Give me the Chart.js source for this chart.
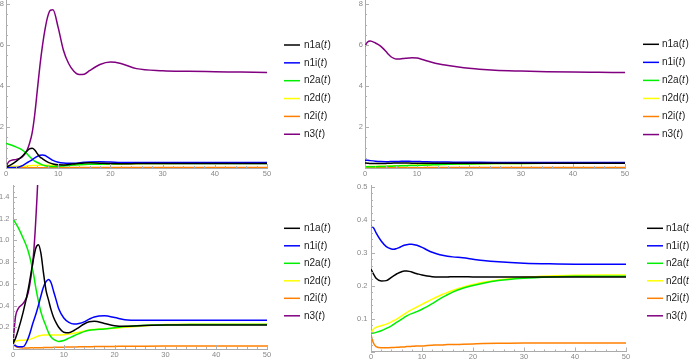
<!DOCTYPE html>
<html>
<head>
<meta charset="utf-8">
<script src="https://cdn.jsdelivr.net/npm/chart.js@4.4.0/dist/chart.umd.min.js"></script>
<style>
  body { margin: 0; background: #fff; }
  #wrap { position: relative; width: 689px; height: 360px; overflow: hidden; }
  canvas { position: absolute; }
</style>
</head>
<body>
<div id="wrap">
  <canvas id="topLeft"></canvas>
  <canvas id="topRight"></canvas>
  <canvas id="bottomLeft"></canvas>
  <canvas id="bottomRight"></canvas>
</div>
<script>
// time samples (t)
const tValues = [0, 0.5, 1, 2, 3, 4, 4.5, 5, 5.5, 6, 6.5, 7, 7.5, 8, 8.5, 9, 10, 11, 12, 13, 14, 15, 16, 18, 20, 22, 25, 30, 35, 40, 45, 50];

// left column run
const n1aLeft = [0.05, 0.1, 0.17, 0.34, 0.55, 0.82, 0.93, 0.96, 0.88, 0.7, 0.54, 0.45, 0.36, 0.29, 0.24, 0.2, 0.155, 0.15, 0.17, 0.2, 0.23, 0.25, 0.255, 0.235, 0.215, 0.21, 0.215, 0.22, 0.22, 0.22, 0.22, 0.22];
const n1iLeft = [0.05, 0.03, 0.02, 0.02, 0.1, 0.25, 0.32, 0.4, 0.49, 0.57, 0.62, 0.64, 0.61, 0.53, 0.45, 0.37, 0.285, 0.245, 0.23, 0.235, 0.25, 0.275, 0.295, 0.305, 0.29, 0.27, 0.265, 0.265, 0.265, 0.265, 0.265, 0.265];
const n2aLeft = [1.2, 1.16, 1.12, 1.02, 0.9, 0.7, 0.56, 0.44, 0.34, 0.27, 0.21, 0.15, 0.11, 0.088, 0.077, 0.07, 0.078, 0.1, 0.122, 0.142, 0.16, 0.172, 0.178, 0.185, 0.195, 0.207, 0.217, 0.222, 0.225, 0.225, 0.225, 0.225];
const n2dLeft = [0.05, 0.07, 0.078, 0.08, 0.085, 0.1, 0.11, 0.12, 0.125, 0.128, 0.13, 0.13, 0.13, 0.13, 0.13, 0.13, 0.132, 0.138, 0.145, 0.155, 0.165, 0.175, 0.18, 0.187, 0.19, 0.2, 0.21, 0.225, 0.228, 0.228, 0.228, 0.228];
const n2iLeft = [0.05, 0.025, 0.015, 0.01, 0.01, 0.011, 0.011, 0.012, 0.012, 0.013, 0.013, 0.014, 0.014, 0.015, 0.015, 0.016, 0.017, 0.018, 0.019, 0.02, 0.021, 0.021, 0.022, 0.023, 0.024, 0.025, 0.026, 0.027, 0.027, 0.028, 0.028, 0.028];
const n3Left = [0.05, 0.3, 0.37, 0.42, 0.52, 0.85, 1.2, 1.7, 2.6, 3.8, 5.0, 6.0, 6.8, 7.4, 7.7, 7.72, 6.85, 5.75, 5.1, 4.72, 4.56, 4.58, 4.75, 5.05, 5.17, 5.1, 4.85, 4.75, 4.72, 4.7, 4.68, 4.66];

// right column run
const n1aRight = [0.25, 0.235, 0.222, 0.214, 0.215, 0.225, 0.23, 0.235, 0.239, 0.242, 0.244, 0.244, 0.243, 0.241, 0.238, 0.236, 0.232, 0.229, 0.227, 0.226, 0.226, 0.226, 0.227, 0.227, 0.226, 0.226, 0.226, 0.226, 0.226, 0.226, 0.226, 0.226];
const n1iRight = [0.38, 0.375, 0.36, 0.335, 0.318, 0.311, 0.31, 0.312, 0.315, 0.319, 0.322, 0.324, 0.325, 0.325, 0.324, 0.322, 0.316, 0.308, 0.301, 0.296, 0.292, 0.289, 0.287, 0.284, 0.28, 0.276, 0.272, 0.268, 0.266, 0.265, 0.265, 0.265];
const n2aRight = [0.055, 0.056, 0.058, 0.063, 0.07, 0.078, 0.083, 0.088, 0.093, 0.098, 0.103, 0.108, 0.112, 0.115, 0.118, 0.121, 0.128, 0.136, 0.145, 0.155, 0.164, 0.172, 0.18, 0.192, 0.2, 0.207, 0.215, 0.222, 0.226, 0.228, 0.228, 0.228];
const n2dRight = [0.055, 0.068, 0.073, 0.078, 0.083, 0.09, 0.094, 0.098, 0.103, 0.108, 0.113, 0.118, 0.123, 0.127, 0.131, 0.135, 0.143, 0.151, 0.159, 0.166, 0.173, 0.179, 0.185, 0.195, 0.203, 0.21, 0.217, 0.225, 0.229, 0.231, 0.232, 0.232];
const n2iRight = [0.05, 0.025, 0.015, 0.011, 0.011, 0.012, 0.012, 0.013, 0.013, 0.014, 0.014, 0.015, 0.015, 0.016, 0.016, 0.017, 0.017, 0.018, 0.019, 0.02, 0.02, 0.021, 0.021, 0.022, 0.023, 0.024, 0.025, 0.026, 0.026, 0.026, 0.026, 0.026];
const n3Right = [5.95, 6.15, 6.2, 6.1, 5.95, 5.7, 5.55, 5.43, 5.36, 5.32, 5.32, 5.33, 5.35, 5.36, 5.37, 5.38, 5.37, 5.3, 5.22, 5.15, 5.09, 5.04, 5.0, 4.93, 4.87, 4.82, 4.77, 4.73, 4.7, 4.68, 4.67, 4.66];

const seriesNames = ['n1a', 'n1i', 'n2a', 'n2d', 'n2i', 'n3'];
const seriesColors = ['#000000', '#0000ff', '#00ee00', '#ffff00', '#ff8000', '#800080'];

// tick labels
const xTicks = [0, 10, 20, 30, 40, 50];
const yTicksTop = [2, 4, 6, 8];
const yTicksBottomLeft = [0.2, 0.4, 0.6, 0.8, 1.0, 1.2, 1.4];
const yTicksBottomRight = [0.1, 0.2, 0.3, 0.4, 0.5];

const leftRun = [n1aLeft, n1iLeft, n2aLeft, n2dLeft, n2iLeft, n3Left];
const rightRun = [n1aRight, n1iRight, n2aRight, n2dRight, n2iRight, n3Right];

const FONT = '"Liberation Sans", Arial, sans-serif';

// legend drawn at the side, with italic t
const sideLegend = {
  id: 'sideLegend',
  afterDraw(chart, args, o) {
    const ctx = chart.ctx;
    ctx.save();
    chart.data.datasets.forEach((ds, i) => {
      const y = o.top + i * o.gap;
      ctx.strokeStyle = ds.borderColor;
      ctx.lineWidth = 1.5;
      ctx.beginPath();
      ctx.moveTo(o.lineFrom, y);
      ctx.lineTo(o.lineTo, y);
      ctx.stroke();
      ctx.fillStyle = '#1a1a1a';
      ctx.textBaseline = 'middle';
      let x = o.textX;
      [[ds.label + '(', ''], ['t', 'italic '], [')', '']].forEach(([s, st]) => {
        ctx.font = st + '10px ' + FONT;
        ctx.fillText(s, x, y);
        x += ctx.measureText(s).width + (st ? 0.6 : 0);
      });
    });
    ctx.restore();
  }
};

// Mathematica-like inward tick marks
const axisMarks = {
  id: 'axisMarks',
  afterDraw(chart, args, o) {
    const {ctx, chartArea: a, scales} = chart;
    ctx.save();
    ctx.strokeStyle = '#b0b0b0';
    ctx.lineWidth = 1;
    const mark = (sc, step, len) => {
      for (let k = 0; k * step <= sc.max + 1e-9; k++) {
        const p = Math.round(sc.getPixelForValue(k * step)) + 0.5;
        ctx.beginPath();
        if (sc.axis === 'x') { ctx.moveTo(p, a.bottom); ctx.lineTo(p, a.bottom - len); }
        else { ctx.moveTo(a.left, p); ctx.lineTo(a.left + len, p); }
        ctx.stroke();
      }
    };
    mark(scales.x, o.xMinor, 2);
    mark(scales.x, o.xMajor, 4);
    mark(scales.y, o.yMinor, 2);
    mark(scales.y, o.yMajor, 4);
    ctx.restore();
  }
};

function makePanel(id, box, plot, run, yMax, yTicks, yDigits, yPad, legend, yMinor, yMajor) {
  const el = document.getElementById(id);
  el.width = box.w; el.height = box.h;
  el.style.left = box.left + 'px'; el.style.top = box.top + 'px';
  el.style.width = box.w + 'px'; el.style.height = box.h + 'px';

  const datasets = run.map((vals, i) => ({
    label: seriesNames[i],
    data: tValues.map((t, j) => ({x: t, y: vals[j]})),
    borderColor: seriesColors[i],
    borderWidth: 1.5,
    pointRadius: 0,
    fill: false,
    cubicInterpolationMode: 'monotone'
  }));

  const tickFont = {family: FONT, size: 7.5};
  const noPad = s => { s.paddingLeft = 0; s.paddingRight = 0; s.paddingTop = 0; s.paddingBottom = 0; };

  return new Chart(el.getContext('2d'), {
    type: 'line',
    data: {datasets},
    plugins: [sideLegend, axisMarks],
    options: {
      responsive: false,
      animation: false,
      devicePixelRatio: 1,
      layout: {padding: {left: 0, top: plot.t, right: box.w - plot.r, bottom: 0}},
      plugins: {
        legend: {display: false},
        tooltip: {enabled: false},
        sideLegend: legend,
        axisMarks: {xMinor: 2, xMajor: 10, yMinor, yMajor}
      },
      scales: {
        x: {
          type: 'linear', min: 0, max: 50,
          grid: {display: false, drawTicks: false},
          border: {display: true, color: '#aaaaaa', width: 1},
          afterBuildTicks: s => { s.ticks = xTicks.map(v => ({value: v})); },
          afterFit: s => { s.height = box.h - plot.b; noPad(s); },
          ticks: {font: tickFont, color: '#888888', padding: 1, maxRotation: 0, autoSkip: false}
        },
        y: {
          type: 'linear', min: 0, max: yMax,
          grid: {display: false, drawTicks: false},
          border: {display: true, color: '#aaaaaa', width: 1},
          afterBuildTicks: s => { s.ticks = yTicks.map(v => ({value: v})); },
          afterFit: s => { s.width = plot.l; noPad(s); },
          ticks: {
            font: tickFont, color: '#888888', padding: yPad, autoSkip: false,
            callback: v => v.toFixed(yDigits)
          }
        }
      }
    }
  });
}

makePanel('topLeft', {left: 0, top: 0, w: 345, h: 180}, {l: 6, r: 267, t: 0, b: 168},
  leftRun, 8.2, yTicksTop, 0, 2,
  {lineFrom: 284, lineTo: 300, textX: 304, top: 45, gap: 17.85}, 0.5, 2);

makePanel('topRight', {left: 345, top: 0, w: 344, h: 180}, {l: 20, r: 280, t: 0, b: 168},
  rightRun, 8.2, yTicksTop, 0, 2,
  {lineFrom: 298, lineTo: 314, textX: 317, top: 44.3, gap: 18.05}, 0.5, 2);

makePanel('bottomLeft', {left: 0, top: 180, w: 345, h: 180}, {l: 13, r: 267, t: 5, b: 169},
  leftRun, 1.51, yTicksBottomLeft, 1, 3.5,
  {lineFrom: 284, lineTo: 300, textX: 304, top: 48.3, gap: 17.5}, 0.05, 0.2);

makePanel('bottomRight', {left: 345, top: 180, w: 344, h: 180}, {l: 26, r: 281, t: 5, b: 171.5},
  rightRun, 0.505, yTicksBottomRight, 1, 3.5,
  {lineFrom: 302, lineTo: 318, textX: 321, top: 48.3, gap: 17.5}, 0.02, 0.1);
</script>
</body>
</html>
